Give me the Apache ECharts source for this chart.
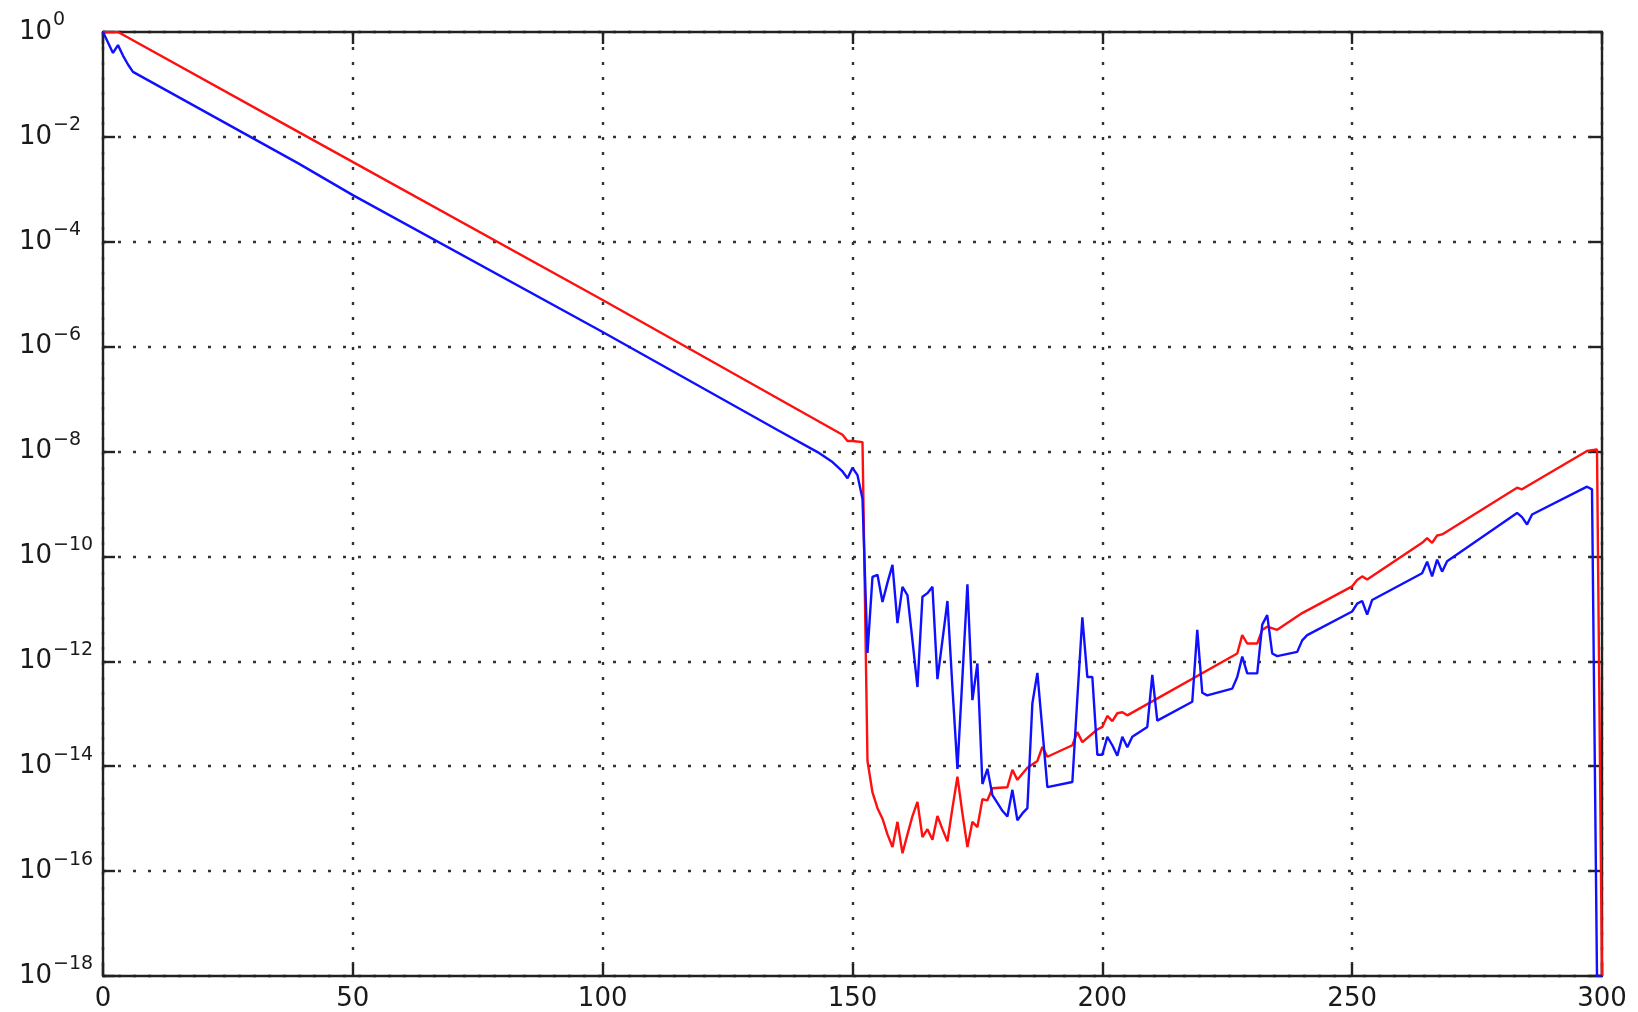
<!DOCTYPE html>
<html>
<head>
<meta charset="utf-8">
<script src="https://cdn.jsdelivr.net/npm/echarts@6/dist/echarts.min.js"></script>
<style>
html,body{margin:0;padding:0;background:#fff;}
#chart{width:1638px;height:1012px;}
</style>
</head>
<body>
<div id="chart"></div>
<script>
// x positions and log10 of the values
const blueX = [0,1,2,3,4,5,6,39,50,100,135,143,146,148,149,150,151,152,153,154,155,156,157,158,159,160,161,162,163,164,165,166,167,168,169,170,171,172,173,174,175,176,177,178,179,180,181,182,183,184,185,186,187,188,189,194,195,196,197,198,199,200,201,202,203,204,205,206,209,210,211,218,219,220,221,226,227,228,229,231,232,233,234,235,239,240,241,250,251,252,253,254,264,265,266,267,268,269,283,284,285,286,297,298,299,300];
const blueLog = [0,-0.2,-0.4,-0.25,-0.45,-0.62,-0.76,-2.5,-3.11,-5.72,-7.59,-8.01,-8.2,-8.38,-8.51,-8.31,-8.45,-8.9,-11.84,-10.39,-10.35,-10.87,-10.5,-10.16,-11.27,-10.58,-10.74,-11.6,-12.49,-10.77,-10.7,-10.58,-12.34,-11.6,-10.85,-12.5,-14.05,-12.3,-10.53,-12.74,-12.04,-14.34,-14.05,-14.55,-14.7,-14.85,-14.96,-14.45,-15.03,-14.9,-14.8,-12.8,-12.22,-13.3,-14.4,-14.3,-12.7,-11.16,-12.3,-12.3,-13.78,-13.78,-13.44,-13.6,-13.8,-13.44,-13.64,-13.44,-13.25,-12.26,-13.13,-12.77,-11.4,-12.6,-12.65,-12.52,-12.3,-11.91,-12.23,-12.23,-11.3,-11.12,-11.85,-11.9,-11.82,-11.6,-11.5,-11.05,-10.9,-10.85,-11.11,-10.83,-10.32,-10.1,-10.38,-10.06,-10.29,-10.09,-9.17,-9.25,-9.39,-9.2,-8.67,-8.72,-18,-18];

const redX = [0,3,39,100,148,149,150,152,153,154,155,156,157,158,159,160,161,162,163,164,165,166,167,168,169,170,171,172,173,174,175,176,177,178,181,182,183,185,187,188,189,194,195,196,199,200,201,202,203,204,205,227,228,229,231,232,233,235,240,250,251,252,253,264,265,266,267,268,283,284,285,297,299,300];
const redLog = [0,0,-1.9,-5.11,-7.68,-7.8,-7.8,-7.82,-13.9,-14.5,-14.8,-15.0,-15.3,-15.54,-15.06,-15.66,-15.3,-14.95,-14.68,-15.35,-15.2,-15.4,-14.95,-15.2,-15.43,-14.8,-14.2,-14.9,-15.54,-15.06,-15.16,-14.63,-14.65,-14.42,-14.4,-14.07,-14.26,-14.03,-13.9,-13.63,-13.82,-13.6,-13.35,-13.54,-13.3,-13.25,-13.04,-13.14,-12.99,-12.97,-13.03,-11.85,-11.5,-11.66,-11.66,-11.4,-11.34,-11.4,-11.08,-10.57,-10.45,-10.38,-10.44,-9.74,-9.65,-9.74,-9.6,-9.58,-8.69,-8.72,-8.66,-7.99,-7.96,-18];

const xTicks = [0,50,100,150,200,250,300];
const yExpTicks = [0,-2,-4,-6,-8,-10,-12,-14,-16,-18];

const toPairs = (xs, ls) => xs.map((x, i) => [x, Math.pow(10, ls[i])]);

const chart = echarts.init(document.getElementById('chart'), null, {renderer: 'canvas'});
const FONT = 'DejaVu Sans';
const gridDash = () => ({color: '#333', width: 2.4, type: [3, 12]});
const axisLineStyle = () => ({show: true, onZero: false, lineStyle: {color: '#222', width: 2.4}});
const tickStyle = () => ({show: true, inside: true, length: 12, lineStyle: {color: '#222', width: 2.4}});
const yMinExp = yExpTicks[yExpTicks.length - 1];
const yMaxExp = yExpTicks[0];

const option = {
  animation: false,
  backgroundColor: '#fff',
  grid: {left: 103, right: 36, top: 32, bottom: 36, containLabel: false},
  xAxis: [{
    type: 'value', min: xTicks[0], max: xTicks[xTicks.length - 1], interval: 50,
    position: 'bottom',
    axisLine: axisLineStyle(), axisTick: tickStyle(),
    splitLine: {show: true, lineStyle: gridDash()},
    axisLabel: {show: true, margin: 10, fontFamily: FONT, fontSize: 26, color: '#1a1a1a',
      formatter: v => xTicks.indexOf(v) >= 0 ? String(v) : ''}
  }, {
    type: 'value', min: xTicks[0], max: xTicks[xTicks.length - 1], interval: 50,
    position: 'top',
    axisLine: axisLineStyle(), axisTick: tickStyle(),
    splitLine: {show: false}, axisLabel: {show: false}
  }],
  yAxis: [{
    type: 'log', logBase: 10, min: Math.pow(10, yMinExp), max: Math.pow(10, yMaxExp),
    interval: 2, splitNumber: 9,
    position: 'left',
    axisLine: axisLineStyle(), axisTick: tickStyle(),
    splitLine: {show: true, lineStyle: gridDash()},
    axisLabel: {
      show: true, align: 'left', margin: 84, color: '#1a1a1a',
      formatter: function (v) {
        const e = Math.round(Math.log10(v));
        if (yExpTicks.indexOf(e) < 0) return '';
        const sup = e === 0 ? '0' : '\u2212' + (-e);
        return '{b|10}{s|' + sup + '}';
      },
      rich: {
        b: {fontFamily: FONT, fontSize: 26, color: '#1a1a1a', lineHeight: 42, verticalAlign: 'middle'},
        s: {fontFamily: FONT, fontSize: 19, color: '#1a1a1a', lineHeight: 19, verticalAlign: 'top', padding: [0, 0, 0, 1]}
      }
    }
  }, {
    // right-hand frame with inward ticks (exponent scale, same positions as the left log axis)
    type: 'value', min: yMinExp, max: yMaxExp, interval: 2,
    position: 'right',
    axisLine: axisLineStyle(), axisTick: tickStyle(),
    splitLine: {show: false}, axisLabel: {show: false}
  }],
  series: [{
    name: 'red', type: 'line', xAxisIndex: 0, yAxisIndex: 0,
    data: toPairs(redX, redLog), showSymbol: false, symbol: 'none',
    lineStyle: {color: '#ff1010', width: 2.4}, z: 3
  }, {
    name: 'blue', type: 'line', xAxisIndex: 0, yAxisIndex: 0,
    data: toPairs(blueX, blueLog), showSymbol: false, symbol: 'none',
    lineStyle: {color: '#1010ff', width: 2.4}, z: 4
  }]
};
chart.setOption(option);
</script>
</body>
</html>
